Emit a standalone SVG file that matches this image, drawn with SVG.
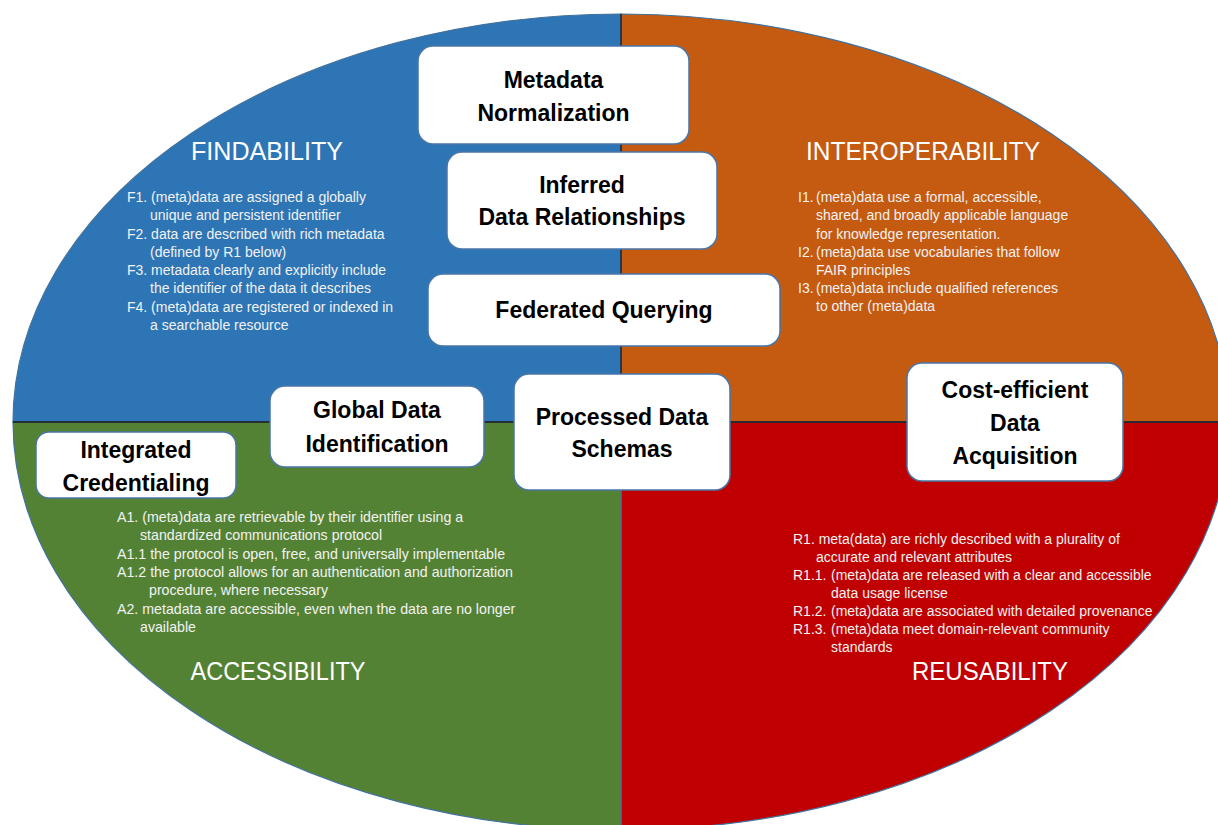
<svg xmlns="http://www.w3.org/2000/svg" width="1218" height="825" viewBox="0 0 1218 825">
<style>
.q{stroke:#41719C;stroke-width:1.2}
.div{stroke:#1a1a1a;stroke-width:1.3;fill:none}
.title{font-family:"Liberation Sans",Arial,sans-serif;font-size:25px;fill:#ffffff;text-anchor:middle}
.body{font-family:"Liberation Sans",Arial,sans-serif;font-size:14px;fill:#F2F2F2}
.bodyA{font-size:14.2px}
.box{fill:#ffffff;stroke:#4A76A8;stroke-width:1.5}
.lbl{font-family:"Liberation Sans",Arial,sans-serif;font-size:23px;font-weight:bold;fill:#000000;text-anchor:middle}
</style>
<rect width="1218" height="825" fill="#ffffff"/>
<g id="quadrants">
<path id="q-findability" class="q" fill="#2E75B6" d="M621,422 L13,422 A608,408 0 0 1 621,14 Z"/>
<path id="q-interoperability" class="q" fill="#C55A11" d="M621,422 L621,14 A608,408 0 0 1 1229,422 Z"/>
<path id="q-reusability" class="q" fill="#C00000" d="M621,422 L1229,422 A608,408 0 0 1 621,830 Z"/>
<path id="q-accessibility" class="q" fill="#548235" d="M621,422 L621,830 A608,408 0 0 1 13,422 Z"/>
<line class="div" x1="621" y1="14" x2="621" y2="422"/>
<line class="div" x1="13" y1="422" x2="1228" y2="422"/>
</g>
<g id="findability-text">
<text class="title" x="267" y="160" textLength="152" lengthAdjust="spacingAndGlyphs">FINDABILITY</text>
<text class="body">
<tspan x="127" y="202">F1. (meta)data are assigned a globally</tspan>
<tspan x="150" y="220">unique and persistent identifier</tspan>
<tspan x="127" y="238.5">F2. data are described with rich metadata</tspan>
<tspan x="150" y="256.5">(defined by R1 below)</tspan>
<tspan x="127" y="275">F3. metadata clearly and explicitly include</tspan>
<tspan x="150" y="293">the identifier of the data it describes</tspan>
<tspan x="127" y="311.5">F4. (meta)data are registered or indexed in</tspan>
<tspan x="150" y="329.5">a searchable resource</tspan>
</text>
</g>
<g id="interoperability-text">
<text class="title" x="923" y="160" textLength="234" lengthAdjust="spacingAndGlyphs">INTEROPERABILITY</text>
<text class="body">
<tspan x="798" y="202">I1.</tspan><tspan x="816" y="202">(meta)data use a formal, accessible,</tspan>
<tspan x="816" y="220">shared, and broadly applicable language</tspan>
<tspan x="816" y="238.5">for knowledge representation.</tspan>
<tspan x="798" y="256.5">I2.</tspan><tspan x="816" y="256.5">(meta)data use vocabularies that follow</tspan>
<tspan x="816" y="274.5">FAIR principles</tspan>
<tspan x="798" y="293">I3.</tspan><tspan x="816" y="293">(meta)data include qualified references</tspan>
<tspan x="816" y="311">to other (meta)data</tspan>
</text>
</g>
<g id="accessibility-text">
<text class="title" x="278" y="680" textLength="175" lengthAdjust="spacingAndGlyphs">ACCESSIBILITY</text>
<text class="body bodyA">
<tspan x="117" y="522">A1. (meta)data are retrievable by their identifier using a</tspan>
<tspan x="140" y="540">standardized communications protocol</tspan>
<tspan x="117" y="559">A1.1 the protocol is open, free, and universally implementable</tspan>
<tspan x="117" y="577">A1.2 the protocol allows for an authentication and authorization</tspan>
<tspan x="149" y="595">procedure, where necessary</tspan>
<tspan x="117" y="614">A2. metadata are accessible, even when the data are no longer</tspan>
<tspan x="140" y="632">available</tspan>
</text>
</g>
<g id="reusability-text">
<text class="title" x="990" y="680" textLength="156" lengthAdjust="spacingAndGlyphs">REUSABILITY</text>
<text class="body">
<tspan x="793" y="544">R1. meta(data) are richly described with a plurality of</tspan>
<tspan x="816" y="562">accurate and relevant attributes</tspan>
<tspan x="793" y="580">R1.1.</tspan><tspan x="831" y="580">(meta)data are released with a clear and accessible</tspan>
<tspan x="831" y="598">data usage license</tspan>
<tspan x="793" y="616">R1.2.</tspan><tspan x="831" y="616">(meta)data are associated with detailed provenance</tspan>
<tspan x="793" y="634">R1.3.</tspan><tspan x="831" y="634">(meta)data meet domain-relevant community</tspan>
<tspan x="831" y="652">standards</tspan>
</text>
</g>
<g id="connectors"></g>
<g id="node-metadata-normalization">
<rect class="box" x="418" y="46" width="271" height="98" rx="15"/>
<text class="lbl" x="553.5" y="88">Metadata</text>
<text class="lbl" x="553.5" y="121">Normalization</text>
</g>
<g id="node-inferred-data-relationships">
<rect class="box" x="447" y="152" width="270" height="97" rx="15"/>
<text class="lbl" x="582" y="193">Inferred</text>
<text class="lbl" x="582" y="225">Data Relationships</text>
</g>
<g id="node-federated-querying">
<rect class="box" x="428" y="274" width="352" height="72" rx="15"/>
<text class="lbl" x="604" y="318">Federated Querying</text>
</g>
<g id="node-global-data-identification">
<rect class="box" x="270" y="386" width="214" height="81" rx="15"/>
<text class="lbl" x="377" y="418">Global Data</text>
<text class="lbl" x="377" y="452">Identification</text>
</g>
<g id="node-processed-data-schemas">
<rect class="box" x="514" y="374" width="216" height="116" rx="15"/>
<text class="lbl" x="622" y="425">Processed Data</text>
<text class="lbl" x="622" y="457">Schemas</text>
</g>
<g id="node-integrated-credentialing">
<rect class="box" x="36" y="432" width="200" height="66" rx="13"/>
<text class="lbl" x="136" y="458">Integrated</text>
<text class="lbl" x="136" y="491">Credentialing</text>
</g>
<g id="node-cost-efficient-data-acquisition">
<rect class="box" x="907" y="363" width="216" height="118" rx="15"/>
<text class="lbl" x="1015" y="398">Cost-efficient</text>
<text class="lbl" x="1015" y="431">Data</text>
<text class="lbl" x="1015" y="464">Acquisition</text>
</g>
</svg>
